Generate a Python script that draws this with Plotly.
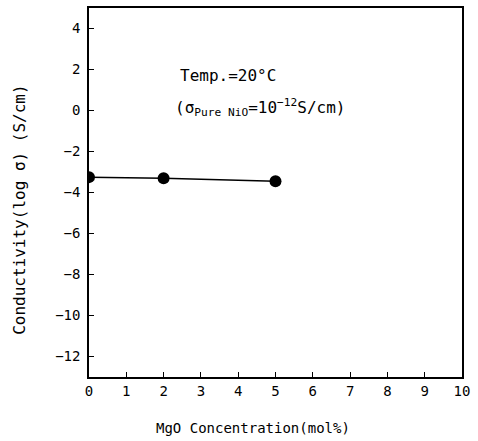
import plotly.graph_objects as go

mgo_conc = [0, 2, 5]
log_sigma = [-3.25, -3.3, -3.45]
x_ticks = list(range(0, 11))
y_ticks = [4, 2, 0, -2, -4, -6, -8, -10, -12]

font = dict(family="DejaVu Sans Mono", size=14, color="black")
ann_font = dict(family="DejaVu Sans Mono", size=16, color="black")

fig = go.Figure()
fig.add_trace(go.Scatter(
    x=mgo_conc, y=log_sigma, mode="lines+markers",
    line=dict(color="black", width=1.5),
    marker=dict(color="black", size=12),
    showlegend=False,
))

fig.update_layout(
    width=478, height=441,
    margin=dict(l=89, r=16, t=6, b=64),
    plot_bgcolor="white", paper_bgcolor="white",
    font=font,
    xaxis=dict(
        range=[0, 10], tickvals=x_ticks, ticks="inside", ticklen=5,
        tickcolor="black", showline=True, linecolor="black", linewidth=1.5,
        mirror=True, showgrid=False, zeroline=False,
    ),
    yaxis=dict(
        range=[-13, 5], tickvals=y_ticks,
        ticktext=[str(v).replace("-", "\u2212") for v in y_ticks],
        ticks="inside", ticklen=5, ticklabelstandoff=4,
        tickcolor="black", showline=True, linecolor="black", linewidth=1.5,
        mirror=True, showgrid=False, zeroline=False,
    ),
    annotations=[
        dict(x=2.39, y=1.7, xref="x", yref="y", xanchor="left", showarrow=False,
             text="Temp.=20\u00b0C", font=ann_font),
        dict(x=2.25, y=0.15, xref="x", yref="y", xanchor="left", showarrow=False,
             text="(\u03c3<sub>Pure NiO</sub>=10<sup>\u221212</sup>S/cm)", font=ann_font),
        dict(x=0.44, y=-0.137, xref="paper", yref="paper", showarrow=False,
             xanchor="center", yanchor="middle",
             text="MgO Concentration(mol%)", font=font),
        dict(x=-0.185, y=0.453, xref="paper", yref="paper", showarrow=False,
             xanchor="center", yanchor="middle", textangle=-90,
             text="Conductivity(log \u03c3) (S/cm)", font=ann_font),
    ],
)

fig.write_html("out.html")
